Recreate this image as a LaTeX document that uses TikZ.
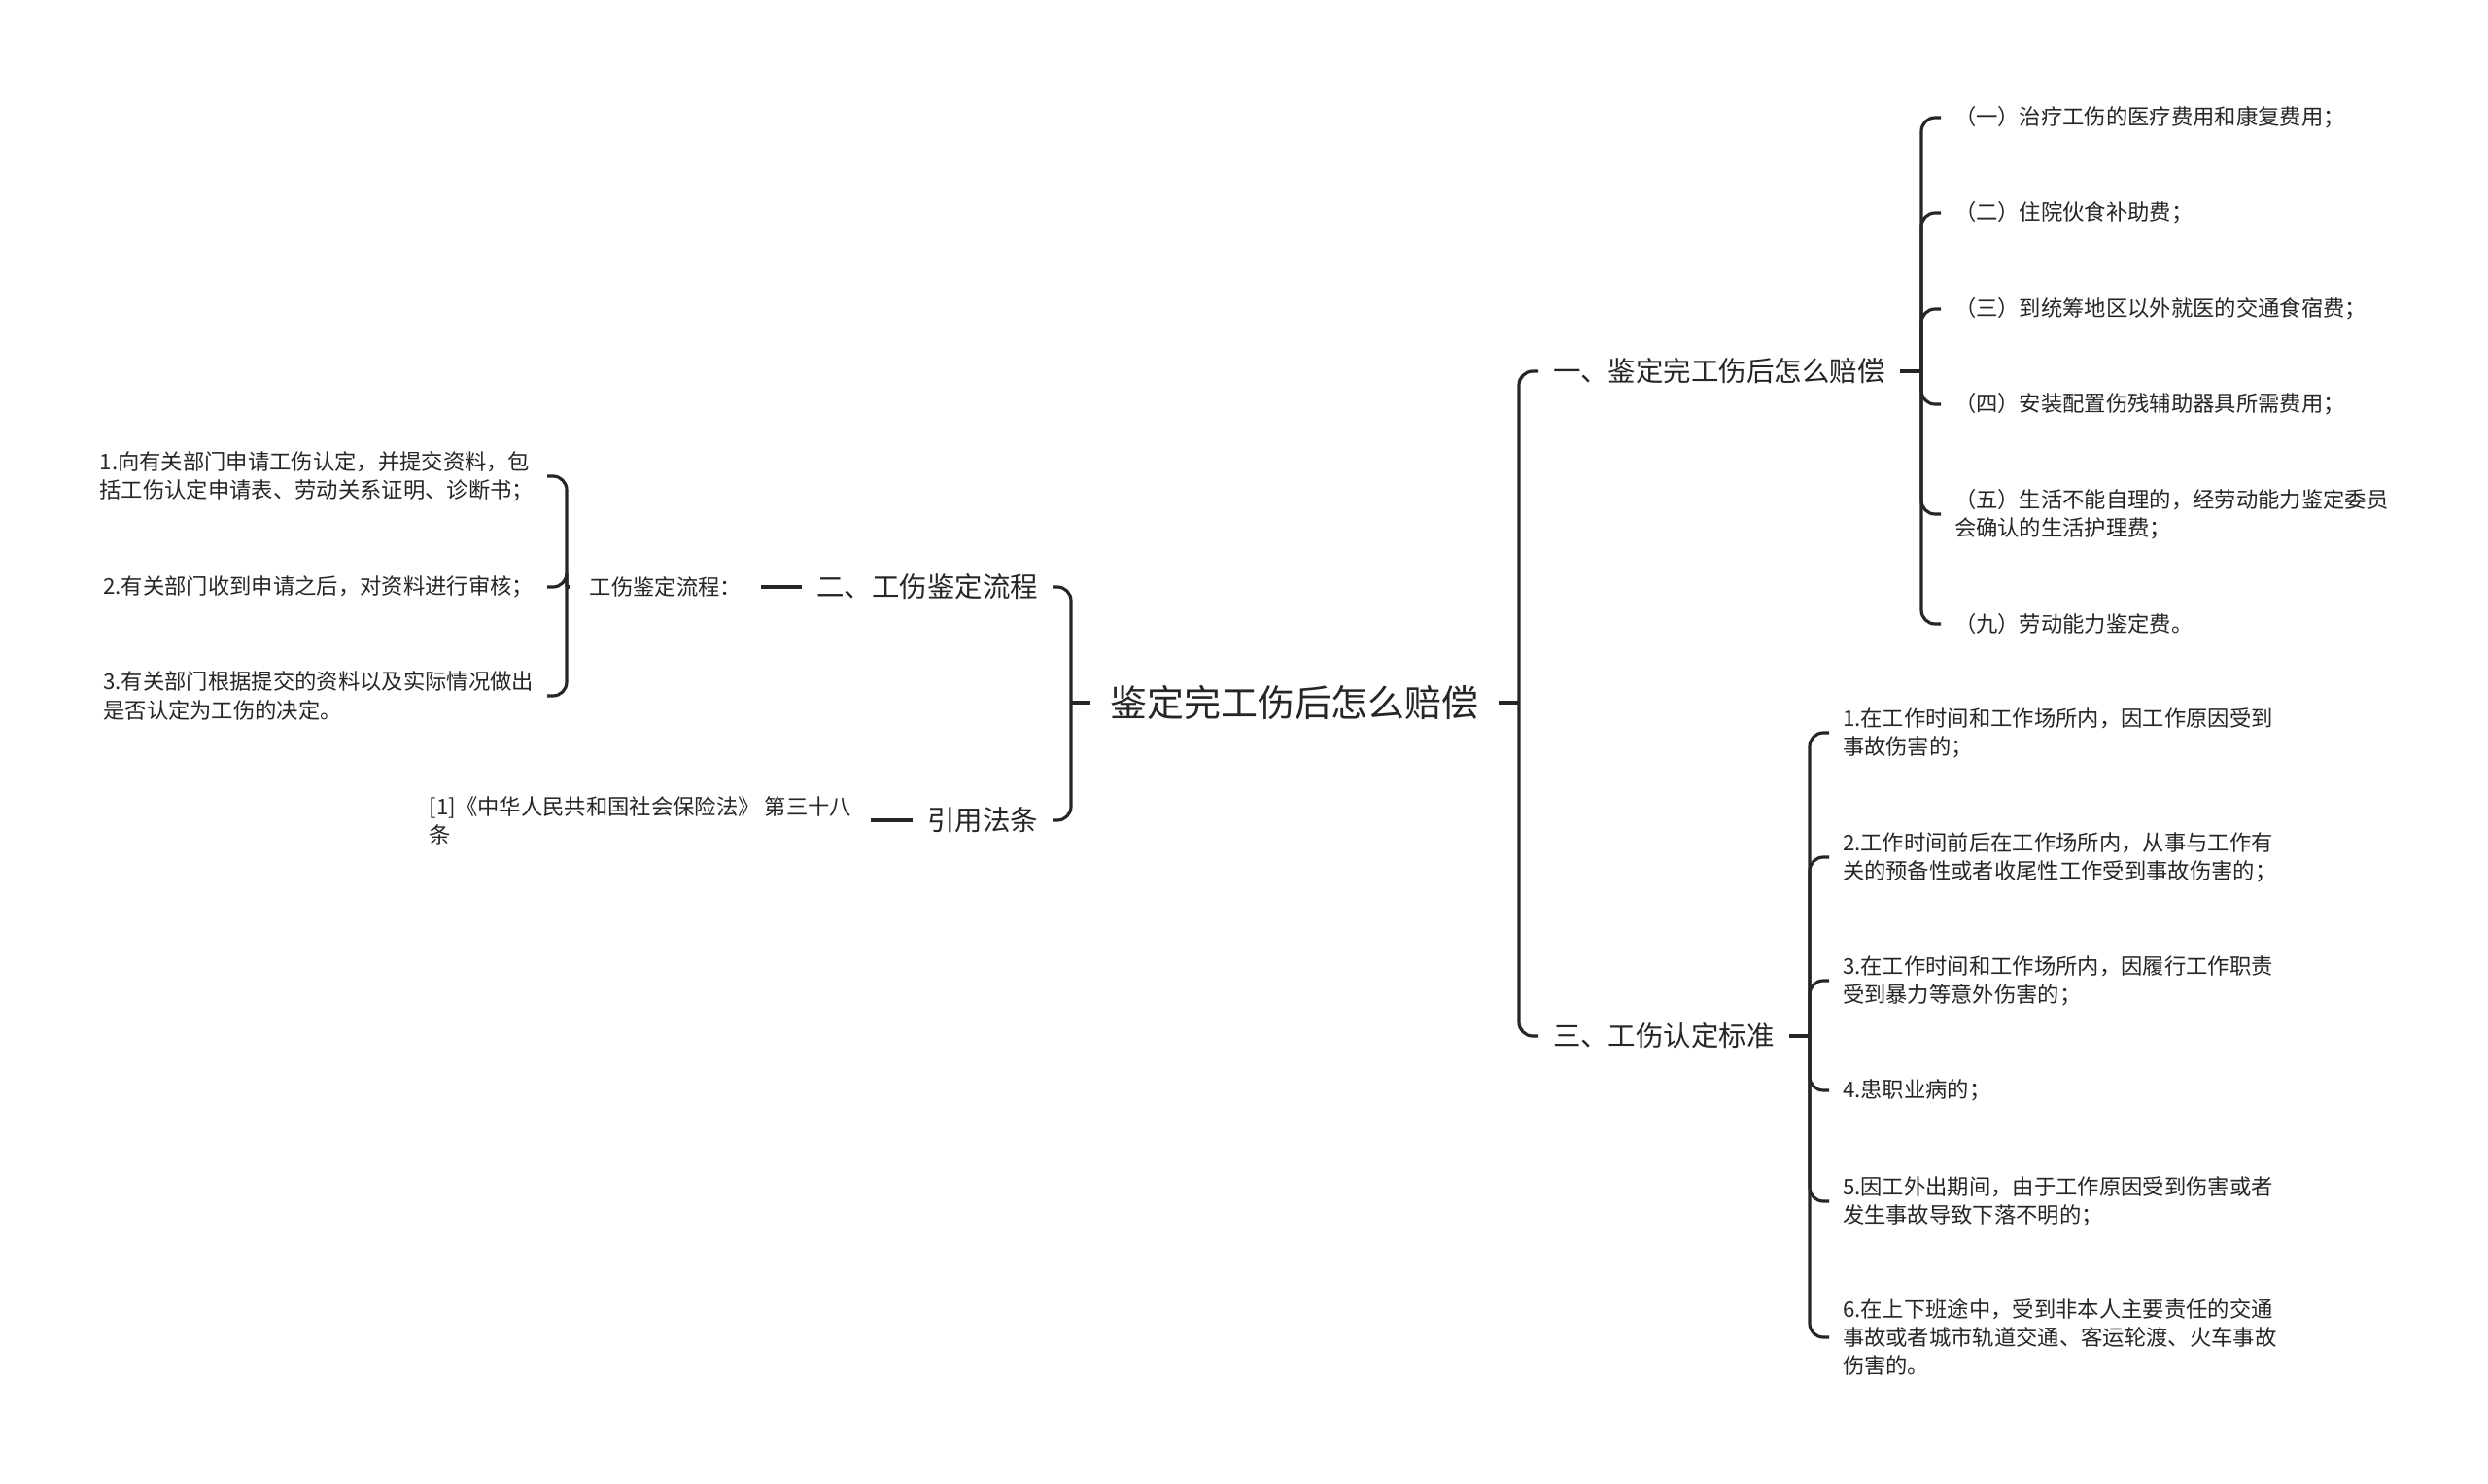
\documentclass[tikz,border=0pt]{standalone}
\usepackage{fontspec}
\setmainfont{Noto Sans CJK SC}
\usetikzlibrary{positioning,calc}

\begin{document}
\begin{tikzpicture}[
	root/.style={text=black!85, font=\fontsize{10.8}{13}\selectfont, inner sep=0.2cm, outer sep=0pt},
	topic/.style={text=black!85, font=\fontsize{8.1}{10}\selectfont, inner sep=0.15cm, outer sep=0pt},
	leaf/.style={text=black!85, font=\fontsize{6.35}{8.3}\selectfont, align=left, inner sep=0.14cm, outer sep=0pt},
	edge/.style={line width=0.9pt, draw=black!85},
	brace/.style={edge, rounded corners=4pt}
	]
	
	\useasboundingbox (0,0) rectangle (25.60,-15.27);
	
	% --------------------------------------------------------------------
	% centre
	% --------------------------------------------------------------------
	\node[root] (root) at (13.32,-7.23) {鉴定完工伤后怎么赔偿};
	
	% junctions of the brackets
	\coordinate (jL) at (11.02,-7.23);
	\coordinate (jR) at (15.63,-7.23);
	\coordinate (j1) at (19.77,-3.82);
	\coordinate (j3) at (18.62,-10.66);
	\coordinate (j2) at (5.83,-6.04);
	
	% --------------------------------------------------------------------
	% RIGHT: topics one and three
	% --------------------------------------------------------------------
	\node[topic, anchor=west] (n1) at (15.83,-3.82) {一、鉴定完工伤后怎么赔偿};
	\node[topic, anchor=west] (n3) at (15.83,-10.66) {三、工伤认定标准};
	
	\node[leaf, anchor=west] (a1) at (19.97,-1.21) {（一）治疗工伤的医疗费用和康复费用；};
	\node[leaf, anchor=west] (a2) at (19.97,-2.19) {（二）住院伙食补助费；};
	\node[leaf, anchor=west] (a3) at (19.97,-3.18) {（三）到统筹地区以外就医的交通食宿费；};
	\node[leaf, anchor=west] (a4) at (19.97,-4.16) {（四）安装配置伤残辅助器具所需费用；};
	\node[leaf, anchor=west] (a5) at (19.97,-5.29) {（五）生活不能自理的，经劳动能力鉴定委员\\会确认的生活护理费；};
	\node[leaf, anchor=west] (a6) at (19.97,-6.42) {（九）劳动能力鉴定费。};
	
	\node[leaf, anchor=west] (b1) at (18.82,-7.54) {1.在工作时间和工作场所内，因工作原因受到\\事故伤害的；};
	\node[leaf, anchor=west] (b2) at (18.82,-8.82) {2.工作时间前后在工作场所内，从事与工作有\\关的预备性或者收尾性工作受到事故伤害的；};
	\node[leaf, anchor=west] (b3) at (18.82,-10.09) {3.在工作时间和工作场所内，因履行工作职责\\受到暴力等意外伤害的；};
	\node[leaf, anchor=west] (b4) at (18.82,-11.22) {4.患职业病的；};
	\node[leaf, anchor=west] (b5) at (18.82,-12.36) {5.因工外出期间，由于工作原因受到伤害或者\\发生事故导致下落不明的；};
	\node[leaf, anchor=west] (b6) at (18.82,-13.76) {6.在上下班途中，受到非本人主要责任的交通\\事故或者城市轨道交通、客运轮渡、火车事故\\伤害的。};
	
	% --------------------------------------------------------------------
	% LEFT: topic two and the citation
	% --------------------------------------------------------------------
	\node[topic, anchor=east] (n2) at (10.83,-6.04) {二、工伤鉴定流程};
	\node[topic, anchor=east] (n4) at (10.83,-8.44) {引用法条};
	
	\node[leaf, anchor=east, inner sep=0.2cm] (flow) at (7.83,-6.04) {工伤鉴定流程：};
	\node[leaf, anchor=east] (c1) at (5.63,-4.90) {1.向有关部门申请工伤认定，并提交资料，包\\括工伤认定申请表、劳动关系证明、诊断书；};
	\node[leaf, anchor=east] (c2) at (5.63,-6.04) {2.有关部门收到申请之后，对资料进行审核；};
	\node[leaf, anchor=east] (c3) at (5.63,-7.16) {3.有关部门根据提交的资料以及实际情况做出\\是否认定为工伤的决定。};
	
	\node[leaf, anchor=east, inner sep=0.2cm] (cite) at (8.96,-8.44) {[1]《中华人民共和国社会保险法》 第三十八\\条};
	
	% --------------------------------------------------------------------
	% connectors
	% --------------------------------------------------------------------
	\draw[edge] (root.east) -- (jR);
	\draw[edge] (root.west) -- (jL);
	\foreach \c in {n1,n3} \draw[brace] (jR) |- (\c.west);
	\foreach \c in {n2,n4} \draw[brace] (jL) |- (\c.east);
	
	\draw[edge] (n1.east) -- (j1);
	\foreach \c in {a1,a2,a3,a4,a5,a6} \draw[brace] (j1) |- (\c.west);
	
	\draw[edge] (n3.east) -- (j3);
	\foreach \c in {b1,b2,b3,b4,b5,b6} \draw[brace] (j3) |- (\c.west);
	
	\draw[edge] (n2.west) -- (flow.east);
	\draw[edge] (flow.west) -- (j2);
	\foreach \c in {c1,c2,c3} \draw[brace] (j2) |- (\c.east);
	
	\draw[edge] (n4.west) -- (cite.east);
	
\end{tikzpicture}
\end{document}
